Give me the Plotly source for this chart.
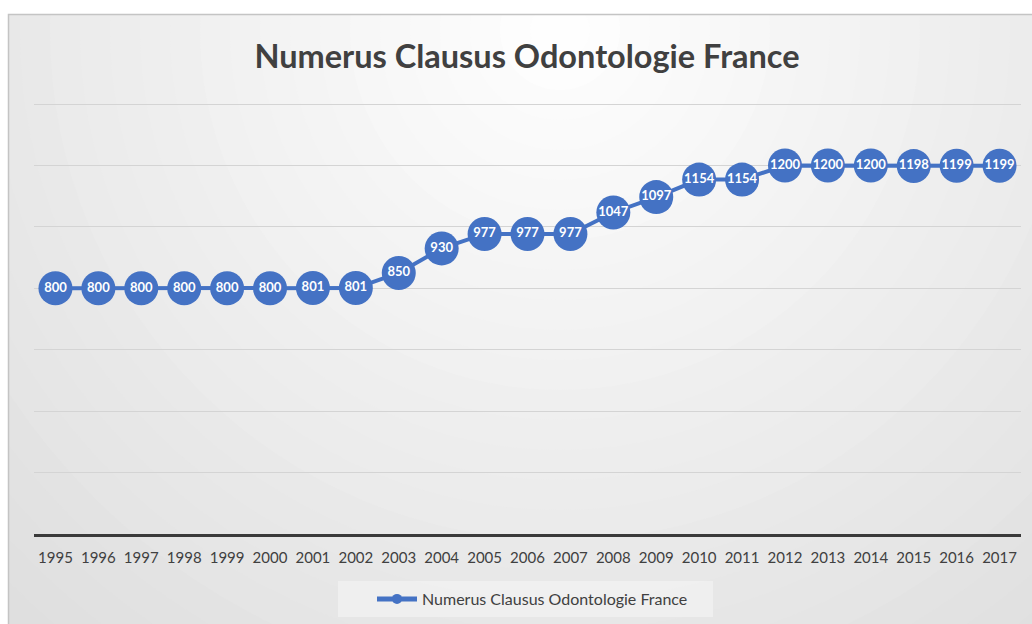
import plotly.graph_objects as go

years = [str(y) for y in range(1995, 2018)]
values = [800, 800, 800, 800, 800, 800, 801, 801, 850, 930, 977, 977, 977,
          1047, 1097, 1154, 1154, 1200, 1200, 1200, 1198, 1199, 1199]
series_name = "Numerus Clausus Odontologie France"
title_text = "Numerus Clausus Odontologie France"

BLUE = "#4472C4"
TXT = "#404040"
FONT = "Lato"

W, H = 1032, 624
ML, MR, MT, MB = 34, 11, 101, 90
PW, PH = W - ML - MR, H - MT - MB


def px_x(p):
    return (p - ML) / PW


def px_y(p):
    return (H - MB - p) / PH


shapes = []
# radial-ish background gradient (concentric ellipses)
cx, cy = 560, 30
for r in range(900, 0, -30):
    v = int(round(255 - 0.04 * r))
    v = max(0, min(255, v))
    col = f"rgb({v},{v},{v})"
    shapes.append(dict(type="circle", xref="paper", yref="paper",
                       x0=px_x(cx - r), x1=px_x(cx + r),
                       y0=px_y(cy + r), y1=px_y(cy - r),
                       fillcolor=col, line=dict(width=0), layer="below"))
# white outside the frame
shapes.append(dict(type="rect", xref="paper", yref="paper",
                   x0=px_x(-50), x1=px_x(8), y0=px_y(700), y1=px_y(-50),
                   fillcolor="white", line=dict(width=0), layer="below"))
shapes.append(dict(type="rect", xref="paper", yref="paper",
                   x0=px_x(-50), x1=px_x(1100), y0=px_y(14), y1=px_y(-200),
                   fillcolor="white", line=dict(width=0), layer="below"))
# frame border
shapes.append(dict(type="rect", xref="paper", yref="paper",
                   x0=px_x(8.5), x1=px_x(1100), y0=px_y(700), y1=px_y(14.5),
                   fillcolor="rgba(0,0,0,0)", line=dict(width=1.5, color="#c4c4c4"),
                   layer="below"))
# legend box background
shapes.append(dict(type="rect", xref="paper", yref="paper",
                   x0=px_x(338), x1=px_x(713), y0=px_y(617), y1=px_y(581),
                   fillcolor="rgba(255,255,255,0.35)", line=dict(width=0),
                   layer="below"))

fig = go.Figure()
fig.add_trace(go.Scatter(
    x=years, y=values, mode="lines+markers+text",
    line=dict(color=BLUE, width=4),
    marker=dict(size=34, color=BLUE),
    text=[str(v) for v in values],
    texttemplate="<b>%{text}</b>",
    textposition="middle center",
    textfont=dict(family=FONT, size=13, color="white"),
    showlegend=False, name=series_name, cliponaxis=False,
))
fig.add_trace(go.Scatter(
    x=[None], y=[None], mode="lines+markers",
    line=dict(color=BLUE, width=5),
    marker=dict(size=10, color=BLUE),
    name=series_name, showlegend=True,
))

fig.update_layout(
    width=W, height=H,
    margin=dict(l=ML, r=MR, t=MT, b=MB),
    paper_bgcolor="white",
    plot_bgcolor="rgba(0,0,0,0)",
    shapes=shapes,
    title=dict(text=f"<b>{title_text}</b>", x=527 / W, xanchor="center",
               xref="container", yref="container", y=1 - 57 / H, yanchor="middle",
               font=dict(family=FONT, size=32.5, color=TXT)),
    xaxis=dict(type="category", range=[-0.5, 22.5], showgrid=False,
               showline=True, linecolor="#3a3a3a", linewidth=2.5,
               ticks="", tickfont=dict(family=FONT, size=15, color=TXT),
               ticklabelstandoff=8, fixedrange=True),
    yaxis=dict(range=[0, 1410], tickvals=[200, 400, 600, 800, 1000, 1200, 1400],
               showgrid=True, gridcolor="#d4d4d4",
               gridwidth=1, showticklabels=False, zeroline=False, ticks="",
               fixedrange=True),
    legend=dict(orientation="h", xref="paper", x=px_x(372), xanchor="left",
                yref="container", y=1 - 599 / H, yanchor="middle",
                bgcolor="rgba(0,0,0,0)", itemwidth=40,
                font=dict(family=FONT, size=16, color=TXT)),
    showlegend=True,
)

fig.write_html("out.html", config={"displayModeBar": False},
               post_script="document.body.style.margin='0';")
